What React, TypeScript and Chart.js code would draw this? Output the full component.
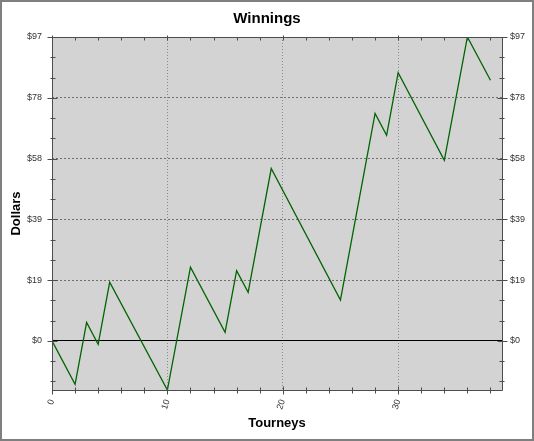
import React, { useEffect, useRef } from 'react';
import { Chart, registerables } from 'chart.js';
Chart.register(...registerables);

const tourneys = [0, 2, 3, 4, 5, 10, 12, 15, 16, 17, 19, 25, 28, 29, 30, 34, 36, 38];
const winnings = [0, -13.9, 5.9, -1.1, 18.7, -15.7, 23.5, 2.7, 22.4, 15.5, 55, 13, 72.6, 65.6, 85.6, 57.6, 97, 83.2];
const xTickValues = [0, 10, 20, 30];
const yTickValues = [0, 19.4, 38.8, 58.2, 77.6, 97];
const X_MIN = 0;
const X_MAX = 39;
const Y_MIN = -15.7;
const Y_MAX = 97;

const FONT = "'Liberation Sans', Arial, sans-serif";

const framePlugin = {
  id: 'frame',
  beforeDraw(chart: any) {
    const { ctx, chartArea: a, width, height } = chart;
    ctx.save();
    ctx.fillStyle = '#ffffff';
    ctx.fillRect(0, 0, width, height);
    ctx.fillStyle = '#d3d3d3';
    ctx.fillRect(a.left, a.top, a.right - a.left, a.bottom - a.top);
    ctx.restore();
  },
  afterDraw(chart: any) {
    const { ctx, chartArea: a, width, height, scales } = chart;
    const xs = scales.x;
    const ys = scales.y;
    const L = Math.round(a.left) + 0.5;
    const R = Math.round(a.right) + 0.5;
    const T = Math.round(a.top) + 0.5;
    const B = Math.round(a.bottom) + 0.5;
    ctx.save();
    ctx.strokeStyle = '#4d4d4d';
    ctx.lineWidth = 1;
    ctx.beginPath();
    ctx.moveTo(L, T); ctx.lineTo(R, T); ctx.lineTo(R, B); ctx.lineTo(L, B); ctx.closePath();
    const step = 97 / 15;
    for (let k = -3; k <= 15; k++) {
      const v = k * step;
      if (v < Y_MIN - 0.01) continue;
      const p = Math.round(ys.getPixelForValue(v)) + 0.5;
      const major = k % 3 === 0;
      const o = major ? 5 : 2;
      const i = major ? 5 : 3;
      ctx.moveTo(L - o, p); ctx.lineTo(L + i, p);
      ctx.moveTo(R - i, p); ctx.lineTo(R + o, p);
    }
    for (let v = 0; v <= 38; v += 2) {
      const p = Math.round(xs.getPixelForValue(v)) + 0.5;
      const major = v % 10 === 0;
      const o = major ? 4 : 3;
      const i = major ? 4 : 3;
      ctx.moveTo(p, B + o); ctx.lineTo(p, B - i);
      ctx.moveTo(p, T - (major ? 2 : 0)); ctx.lineTo(p, T + 3);
    }
    ctx.stroke();
    ctx.strokeStyle = '#7f7f7f';
    ctx.lineWidth = 2;
    ctx.strokeRect(1, 1, width - 2, height - 2);
    ctx.restore();
  },
};

export default function App() {
  const ref = useRef<HTMLCanvasElement>(null);
  useEffect(() => {
    document.body.style.margin = '0';
    const canvas = ref.current!;
    const chart = new Chart(canvas, {
      type: 'line',
      data: {
        datasets: [
          {
            data: tourneys.map((t, i) => ({ x: t, y: winnings[i] })),
            borderColor: '#006400',
            borderWidth: 1.3,
            pointRadius: 0,
            tension: 0,
            fill: false,
          },
        ],
      },
      options: {
        responsive: false,
        animation: false,
        devicePixelRatio: 1,
        layout: { padding: 0 },
        plugins: {
          legend: { display: false },
          tooltip: { enabled: false },
          title: {
            display: true,
            text: 'Winnings',
            color: '#000',
            font: { family: FONT, size: 15, weight: 'bold' },
            padding: { top: 10, bottom: 9 },
          },
        },
        scales: {
          x: {
            type: 'linear',
            position: 'bottom',
            min: X_MIN,
            max: X_MAX,
            afterBuildTicks: (s: any) => { s.ticks = xTickValues.map((v) => ({ value: v })); },
            afterFit: (s: any) => { s.height = 51; },
            ticks: {
              minRotation: 72,
              maxRotation: 72,
              padding: 8,
              color: '#333',
              font: { family: FONT, size: 9 },
              callback: (v: any) => String(v),
            },
            grid: {
              drawTicks: false,
              color: (c: any) => (c.tick && c.tick.value === 0 ? 'rgba(0,0,0,0)' : '#8a8a8a'),
            },
            border: { display: false, dash: [1, 2] },
            title: {
              display: true,
              text: 'Tourneys',
              color: '#000',
              font: { family: FONT, size: 13, weight: 'bold' },
              padding: { top: 0, bottom: 10 },
            },
          },
          y: {
            type: 'linear',
            position: 'left',
            min: Y_MIN,
            max: Y_MAX,
            afterBuildTicks: (s: any) => { s.ticks = yTickValues.map((v) => ({ value: v })); },
            afterFit: (s: any) => { s.width = 52; },
            ticks: {
              padding: 10,
              color: '#333',
              font: { family: FONT, size: 9 },
              callback: (v: any) => '$' + Math.round(Number(v)),
            },
            grid: {
              drawTicks: false,
              color: (c: any) => {
                const v = c.tick ? c.tick.value : null;
                if (v === 0) return '#000';
                if (v === Y_MAX) return 'rgba(0,0,0,0)';
                return '#707070';
              },
            },
            border: {
              display: false,
              dash: (c: any) => (c.tick && c.tick.value === 0 ? [] : [2, 2]),
            },
            title: {
              display: true,
              text: 'Dollars',
              color: '#000',
              font: { family: FONT, size: 13, weight: 'bold' },
              padding: { top: 9, bottom: 0 },
            },
          },
          y2: {
            type: 'linear',
            position: 'right',
            min: Y_MIN,
            max: Y_MAX,
            afterBuildTicks: (s: any) => { s.ticks = yTickValues.map((v) => ({ value: v })); },
            afterFit: (s: any) => { s.width = 32; },
            ticks: {
              padding: 8,
              color: '#333',
              font: { family: FONT, size: 9 },
              callback: (v: any) => '$' + Math.round(Number(v)),
            },
            grid: { display: false, drawTicks: false },
            border: { display: false },
          },
        },
      } as any,
      plugins: [framePlugin],
    });
    return () => chart.destroy();
  }, []);
  return <canvas ref={ref} width={534} height={441} style={{ display: 'block' }} />;
}
